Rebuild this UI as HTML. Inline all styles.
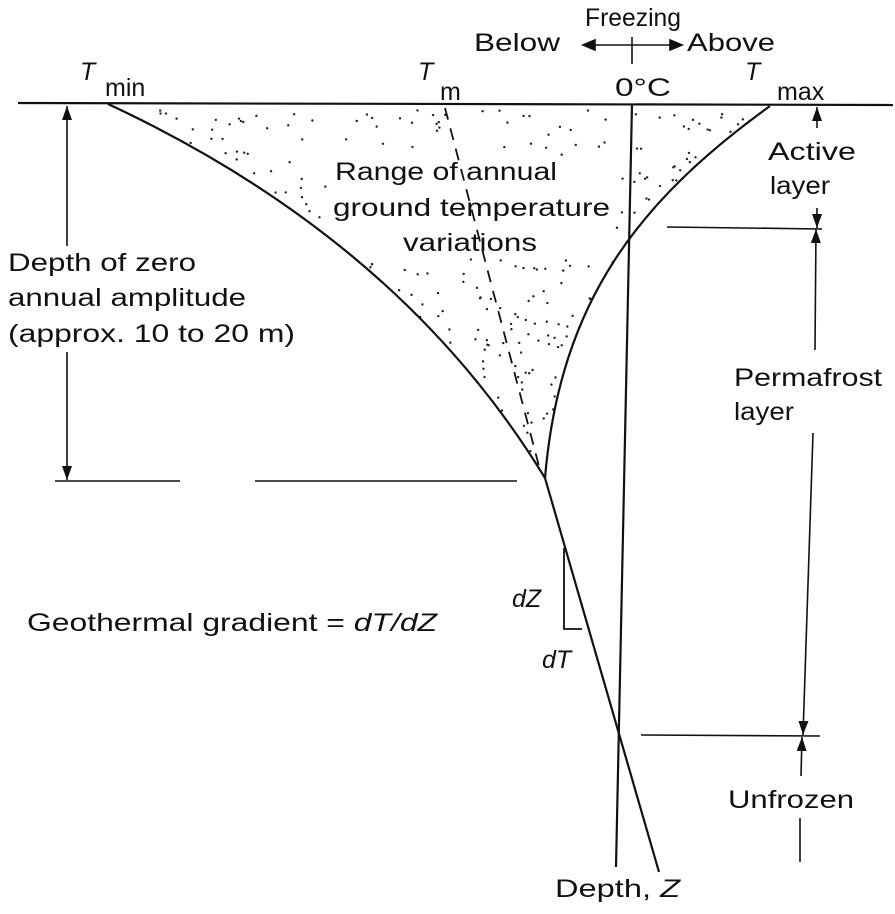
<!DOCTYPE html>
<html><head><meta charset="utf-8"><style>
html,body{margin:0;padding:0;background:#fff}
svg{display:block}
text{font-family:"Liberation Sans",sans-serif;font-size:25px;fill:#111}
.i{font-style:italic}
</style></head><body>
<svg id="s" width="895" height="914" viewBox="0 0 895 914" xmlns="http://www.w3.org/2000/svg">
<defs>
<marker id="a" markerWidth="14" markerHeight="10" refX="14" refY="5" orient="auto-start-reverse" markerUnits="userSpaceOnUse" viewBox="0 0 14 10"><path d="M0,0 L14,5 L0,10 z" fill="#111"/></marker>
</defs>
<g id="dots" fill="#222"></g>
<g stroke="#111" fill="none" stroke-width="2.2">
<line x1="18" y1="103" x2="893" y2="105"/>
<path id="tmin" d="M108,104 Q400,240 545,478"/>
<path id="tmax" d="M770,106 C640,200 560,300 545,478"/>
<line x1="632" y1="104" x2="616" y2="867"/>
<line x1="545" y1="478" x2="659" y2="872"/>
<line x1="445" y1="108" x2="540" y2="470" stroke-dasharray="12,9" stroke-width="1.8"/>
<polyline points="564,548 564,629 582,629" stroke-width="1.8"/>
<g stroke-width="1.6">
<line x1="55" y1="481" x2="180" y2="481"/>
<line x1="255" y1="481" x2="517" y2="481"/>
<line x1="667" y1="227" x2="822" y2="229"/>
<line x1="641" y1="735" x2="820" y2="736"/>
<line x1="67" y1="106" x2="67" y2="246" marker-start="url(#a)"/>
<line x1="67" y1="352" x2="67" y2="480" marker-end="url(#a)"/>
<line x1="817" y1="107" x2="817" y2="128" marker-start="url(#a)"/>
<line x1="817" y1="208" x2="817" y2="228" marker-end="url(#a)"/>
<line x1="816" y1="229" x2="815" y2="350" marker-start="url(#a)"/>
<line x1="813" y1="433" x2="803" y2="735" marker-end="url(#a)"/>
<line x1="802" y1="737" x2="801" y2="776" marker-start="url(#a)"/>
<line x1="800" y1="818" x2="800" y2="862"/>
<line x1="583" y1="45" x2="682" y2="45"/>
<path d="M583,45 l12,-5 v10z M682,45 l-12,-5 v10z" fill="#111"/>
<line x1="632" y1="37" x2="632" y2="64"/>
</g>
</g>
<text x="585" y="26" textLength="96" lengthAdjust="spacingAndGlyphs">Freezing</text>
<text x="474" y="51" textLength="86" lengthAdjust="spacingAndGlyphs">Below</text>
<text x="687" y="51" textLength="88" lengthAdjust="spacingAndGlyphs">Above</text>
<text x="615" y="96" textLength="56" lengthAdjust="spacingAndGlyphs">0°C</text>
<text class="i" x="80" y="80" font-size="28">T</text><text x="105" y="96">min</text>
<text class="i" x="418" y="80" font-size="28">T</text><text x="440" y="100">m</text>
<text class="i" x="745" y="80" font-size="28">T</text><text x="777" y="100" font-size="23">max</text>
<text x="335" y="180" textLength="222" lengthAdjust="spacingAndGlyphs">Range of annual</text>
<text x="333" y="216" textLength="277" lengthAdjust="spacingAndGlyphs">ground temperature</text>
<text x="403" y="251" textLength="134" lengthAdjust="spacingAndGlyphs">variations</text>
<text x="8" y="271" textLength="188" lengthAdjust="spacingAndGlyphs">Depth of zero</text>
<text x="8" y="306" textLength="238" lengthAdjust="spacingAndGlyphs">annual amplitude</text>
<text x="8" y="342" textLength="287" lengthAdjust="spacingAndGlyphs">(approx. 10 to 20 m)</text>
<text x="768" y="160" textLength="88" lengthAdjust="spacingAndGlyphs">Active</text>
<text x="770" y="194" textLength="60" lengthAdjust="spacingAndGlyphs">layer</text>
<text x="734" y="386" textLength="148" lengthAdjust="spacingAndGlyphs">Permafrost</text>
<text x="734" y="420" textLength="60" lengthAdjust="spacingAndGlyphs">layer</text>
<text x="728" y="808" textLength="126" lengthAdjust="spacingAndGlyphs">Unfrozen</text>
<text x="27" y="631" textLength="410" lengthAdjust="spacingAndGlyphs">Geothermal gradient = <tspan class="i">dT/dZ</tspan></text>
<text class="i" x="512" y="607">dZ</text>
<text class="i" x="542" y="668">dT</text>
<text x="555" y="897" textLength="125" lengthAdjust="spacingAndGlyphs">Depth, <tspan class="i">Z</tspan></text>
</svg>
<script>
(function(){
var a=document.getElementById('tmin'),b=document.getElementById('tmax');
var g=document.getElementById('dots');
var pts=[],L=a.getTotalLength(),i;
for(i=0;i<=80;i++){var p=a.getPointAtLength(L*i/80);pts.push([p.x,p.y]);}
L=b.getTotalLength();
for(i=80;i>=0;i--){var p=b.getPointAtLength(L*i/80);pts.push([p.x,p.y]);}
function inside(x,y){var c=false;for(var i=0,j=pts.length-1;i<pts.length;j=i++){var xi=pts[i][0],yi=pts[i][1],xj=pts[j][0],yj=pts[j][1];if(((yi>y)!=(yj>y))&&(x<(xj-xi)*(y-yi)/(yj-yi)+xi))c=!c;}return c;}
var seed=7;function r(){seed=(seed*16807)%2147483647;return seed/2147483647;}
var n=0;for(var k=0;k<4000&&n<200;k++){var x=110+r()*660,y=110+r()*370;
if(inside(x,y)&&!(x>330&&x<615&&y>155&&y<256)){var e=document.createElementNS('http://www.w3.org/2000/svg','circle');e.setAttribute('cx',x);e.setAttribute('cy',y);e.setAttribute('r',1.2);g.appendChild(e);n++;}}
})();
</script>
</body></html>
